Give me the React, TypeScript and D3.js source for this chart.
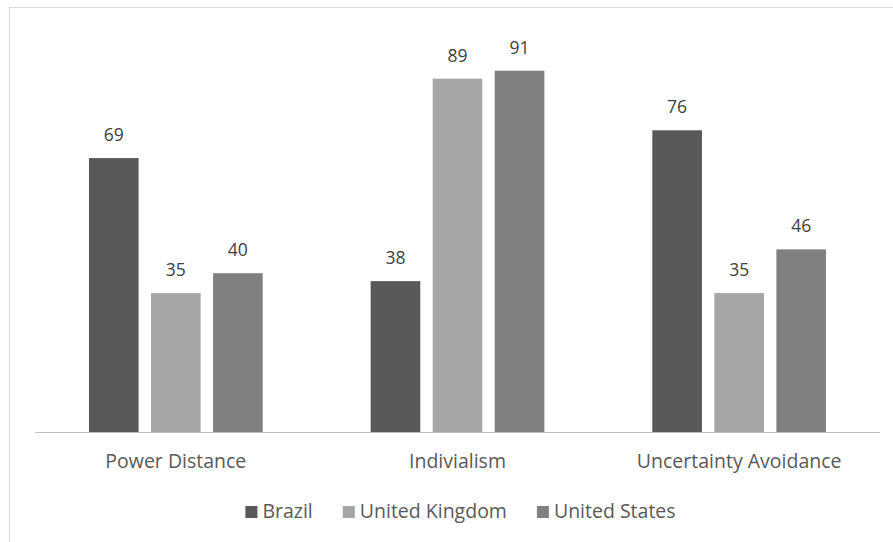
import React, { useEffect, useRef } from "react";
import * as d3 from "d3";

const categories = ["Power Distance", "Indivialism", "Uncertainty Avoidance"];
const seriesNames = ["Brazil", "United Kingdom", "United States"];
const brazil = [69, 38, 76];
const unitedKingdom = [35, 89, 35];
const unitedStates = [40, 91, 46];
const seriesColors = ["#595959", "#a6a6a6", "#808080"];

const W = 893;
const H = 542;

export default function App() {
  const ref = useRef<SVGSVGElement>(null);

  useEffect(() => {
    const svg = d3.select(ref.current);
    svg.selectAll("*").remove();
    const font = "'Open Sans', sans-serif";

    const values = [brazil, unitedKingdom, unitedStates];
    const data = categories.map((c, i) => ({
      cat: c,
      vals: seriesNames.map((s, j) => ({ s, j, v: values[j][i] })),
    }));

    // frame
    svg.append("rect").attr("x", 9.5).attr("y", 7.5).attr("width", W).attr("height", H)
      .attr("fill", "#fff").attr("stroke", "#d9d9d9");

    const x0 = d3.scaleBand<string>().domain(categories).range([35, 880]).padding(0);
    const x1 = d3.scaleBand<string>().domain(seriesNames).range([0, x0.bandwidth()])
      .paddingInner(0.2).paddingOuter(0.87);
    const y = d3.scaleLinear().domain([0, 100]).range([432, 35]);

    const g = svg.append("g");
    const groups = g.selectAll("g.cat").data(data).enter().append("g")
      .attr("transform", (d) => `translate(${x0(d.cat)},0)`);

    groups.selectAll("rect").data((d) => d.vals).enter().append("rect")
      .attr("x", (d) => x1(d.s)!)
      .attr("y", (d) => y(d.v))
      .attr("width", x1.bandwidth())
      .attr("height", (d) => y(0) - y(d.v))
      .attr("fill", (d) => seriesColors[d.j]);

    groups.selectAll("text").data((d) => d.vals).enter().append("text")
      .attr("x", (d) => x1(d.s)! + x1.bandwidth() / 2)
      .attr("y", (d) => y(d.v) - 17)
      .attr("text-anchor", "middle")
      .attr("font-family", font).attr("font-size", 17.5).attr("fill", "#404040")
      .text((d) => String(d.v));

    // axis line
    svg.append("line").attr("x1", x0.range()[0]).attr("x2", x0.range()[1])
      .attr("y1", y(0) + 0.5).attr("y2", y(0) + 0.5).attr("stroke", "#bfbfbf").attr("stroke-width", 1);

    // category labels
    svg.selectAll("text.cat").data(categories).enter().append("text")
      .attr("class", "cat")
      .attr("x", (d) => x0(d)! + x0.bandwidth() / 2)
      .attr("y", 468)
      .attr("text-anchor", "middle")
      .attr("font-family", font).attr("font-size", 19.5).attr("fill", "#595959")
      .text((d) => d);

    // legend
    const lg = svg.append("g");
    const items = lg.selectAll("g").data(seriesNames).enter().append("g");
    items.append("rect").attr("width", 12).attr("height", 12).attr("y", 506)
      .attr("fill", (d, i) => seriesColors[i]);
    const texts = items.append("text").attr("x", 17).attr("y", 518)
      .attr("font-family", font).attr("font-size", 19.5).attr("fill", "#595959")
      .text((d) => d);
    const widths: number[] = [];
    texts.each(function () { widths.push((this as SVGTextElement).getComputedTextLength()); });
    const gap = 30;
    const itemW = widths.map((w) => 17 + w);
    const total = d3.sum(itemW) + gap * (itemW.length - 1);
    let cx = (x0.range()[0] + x0.range()[1]) / 2 - total / 2 + 3;
    items.each(function (d, i) {
      d3.select(this).attr("transform", `translate(${cx},0)`);
      cx += itemW[i] + gap;
    });
  }, []);

  return (
    <svg ref={ref} width={W} height={H}
      style={{ position: "absolute", left: 0, top: 0, background: "#fff" }} />
  );
}
